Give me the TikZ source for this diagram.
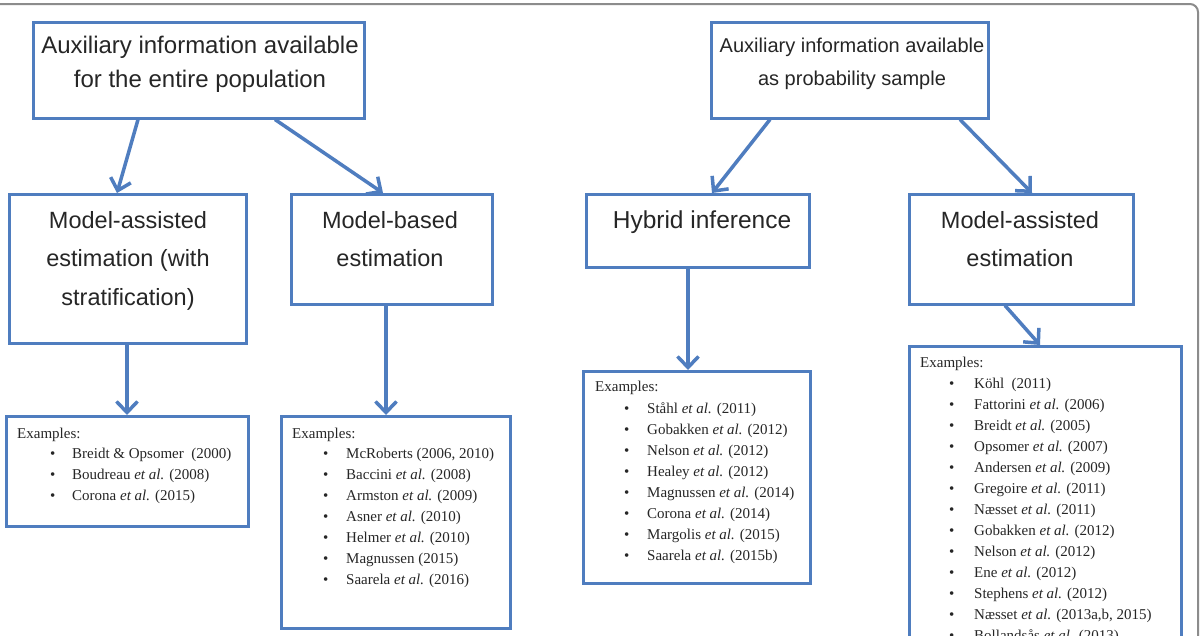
\documentclass[tikz,border=0pt]{standalone}
\usepackage{fontspec}
\setmainfont{Liberation Serif}
\newfontfamily\hsans{Liberation Sans}
\usetikzlibrary{arrows.meta,calc}
\definecolor{boxblue}{HTML}{4F7DBF}
\definecolor{framegray}{HTML}{8C8C8C}
\newcommand\bli[2][23pt]{\makebox[#1][l]{\textbullet}#2}
\tikzset{
 box/.style={draw=boxblue, line width=2.5pt, inner sep=0pt, anchor=north west},
 ttl/.style={font=\hsans\fontsize{24}{34}\selectfont, align=center, anchor=north, inner sep=0pt, text=black!85},
 ttls/.style={ttl, font=\hsans\fontsize{20}{33}\selectfont},
 ttlb/.style={ttl, font=\hsans\fontsize{23.5}{38.5}\selectfont},
 arr/.style={draw=boxblue, line width=3.5pt, -{Straight Barb[length=11pt,width=21pt]}},
 ex/.style={font=\fontsize{15}{21}\selectfont, anchor=base west, inner sep=0pt, align=left, text=black!85},
 exl/.style={ex, anchor=north west},
}
\begin{document}
\begin{tikzpicture}[x=1pt,y=-1pt]
\useasboundingbox (0,0) rectangle (1202,635);
\clip (0,0) rectangle (1202,635);
\fill[white] (0,0) rectangle (1202,635);
\draw[framegray, line width=2pt, rounded corners=8pt] (-5,4) -- (1198,4) -- (1198,645);

% boxes
\node[box, minimum width=331pt, minimum height=96pt] (A) at (32,21) {};
\node[box, minimum width=277pt, minimum height=96pt] (B) at (710,21) {};
\node[box, minimum width=237pt, minimum height=149pt] (C) at (8,193) {};
\node[box, minimum width=201pt, minimum height=110pt] (D) at (290,193) {};
\node[box, minimum width=223pt, minimum height=73pt] (E) at (585,193) {};
\node[box, minimum width=224pt, minimum height=110pt] (F) at (908,193) {};
\node[box, minimum width=242pt, minimum height=110pt] (G) at (5,415) {};
\node[box, minimum width=229pt, minimum height=212pt] (H) at (280,415) {};
\node[box, minimum width=227pt, minimum height=212pt] (I) at (582,370) {};
\node[box, minimum width=272pt, minimum height=320pt] (J) at (908,345) {};

% titles
\node[ttl] (At) at (200,36) {Auxiliary information available\\for the entire population};
\node[ttls] (Bt) at (852,38) {Auxiliary information available\\as probability sample};
\node[ttlb] (Ct) at (128,211) {Model-assisted\\estimation (with\\stratification)};
\node[ttlb] (Dt) at (390,211) {Model-based\\estimation};
\node[ttlb, font=\hsans\fontsize{24.5}{38.5}\selectfont] (Et) at (702,211) {Hybrid inference};
\node[ttlb] (Ft) at (1020,211) {Model-assisted\\estimation};

% arrows
\draw[arr] ([xshift=106pt]A.south west) -- ([xshift=109pt]C.north west);
\draw[arr] ([xshift=243pt]A.south west) -- ([xshift=93pt]D.north west);
\draw[arr] ([xshift=60pt]B.south west) -- ([xshift=127pt]E.north west);
\draw[arr] ([xshift=250pt]B.south west) -- ([xshift=124pt]F.north west);
\draw[arr] ([xshift=119pt]C.south west) -- ([xshift=122pt]G.north west);
\draw[arr] ([xshift=96pt]D.south west) -- ([xshift=106pt]H.north west);
\draw[arr] ([xshift=103pt]E.south west) -- ([xshift=106pt]I.north west);
\draw[arr] ([xshift=97pt]F.south west) -- ([xshift=132pt]J.north west);

% examples
\node[ex] (Ge) at (17,438) {Examples:};
\node[exl] (Gl) at (50,447.6) {\bli[22pt]{Breidt \& Opsomer\ \ (2000)}\\
\bli[22pt]{Boudreau \textit{et al.} (2008)}\\
\bli[22pt]{Corona \textit{et al.} (2015)}};

\node[ex] (He) at (292,438) {Examples:};
\node[exl] (Hl) at (323,447.6) {\bli{McRoberts (2006, 2010)}\\
\bli{Baccini \textit{et al.} (2008)}\\
\bli{Armston \textit{et al.} (2009)}\\
\bli{Asner \textit{et al.} (2010)}\\
\bli{Helmer \textit{et al.} (2010)}\\
\bli{Magnussen (2015)}\\
\bli{Saarela \textit{et al.} (2016)}};

\node[ex] (Ie) at (595,391) {Examples:};
\node[exl] (Il) at (624,402.6) {\bli{Ståhl \textit{et al.} (2011)}\\
\bli{Gobakken \textit{et al.} (2012)}\\
\bli{Nelson \textit{et al.} (2012)}\\
\bli{Healey \textit{et al.} (2012)}\\
\bli{Magnussen \textit{et al.} (2014)}\\
\bli{Corona \textit{et al.} (2014)}\\
\bli{Margolis \textit{et al.} (2015)}\\
\bli{Saarela \textit{et al.} (2015b)}};

\node[ex] (Je) at (920,367) {Examples:};
\node[exl] (Jl) at (949,377.6) {\bli[25pt]{Köhl\ \ (2011)}\\
\bli[25pt]{Fattorini \textit{et al.} (2006)}\\
\bli[25pt]{Breidt \textit{et al.} (2005)}\\
\bli[25pt]{Opsomer \textit{et al.} (2007)}\\
\bli[25pt]{Andersen \textit{et al.} (2009)}\\
\bli[25pt]{Gregoire \textit{et al.} (2011)}\\
\bli[25pt]{Næsset \textit{et al.} (2011)}\\
\bli[25pt]{Gobakken \textit{et al.} (2012)}\\
\bli[25pt]{Nelson \textit{et al.} (2012)}\\
\bli[25pt]{Ene \textit{et al.} (2012)}\\
\bli[25pt]{Stephens \textit{et al.} (2012)}\\
\bli[25pt]{Næsset \textit{et al.} (2013a,b, 2015)}\\
\bli[25pt]{Bollandsås \textit{et al.} (2013)}};
\end{tikzpicture}
\end{document}
